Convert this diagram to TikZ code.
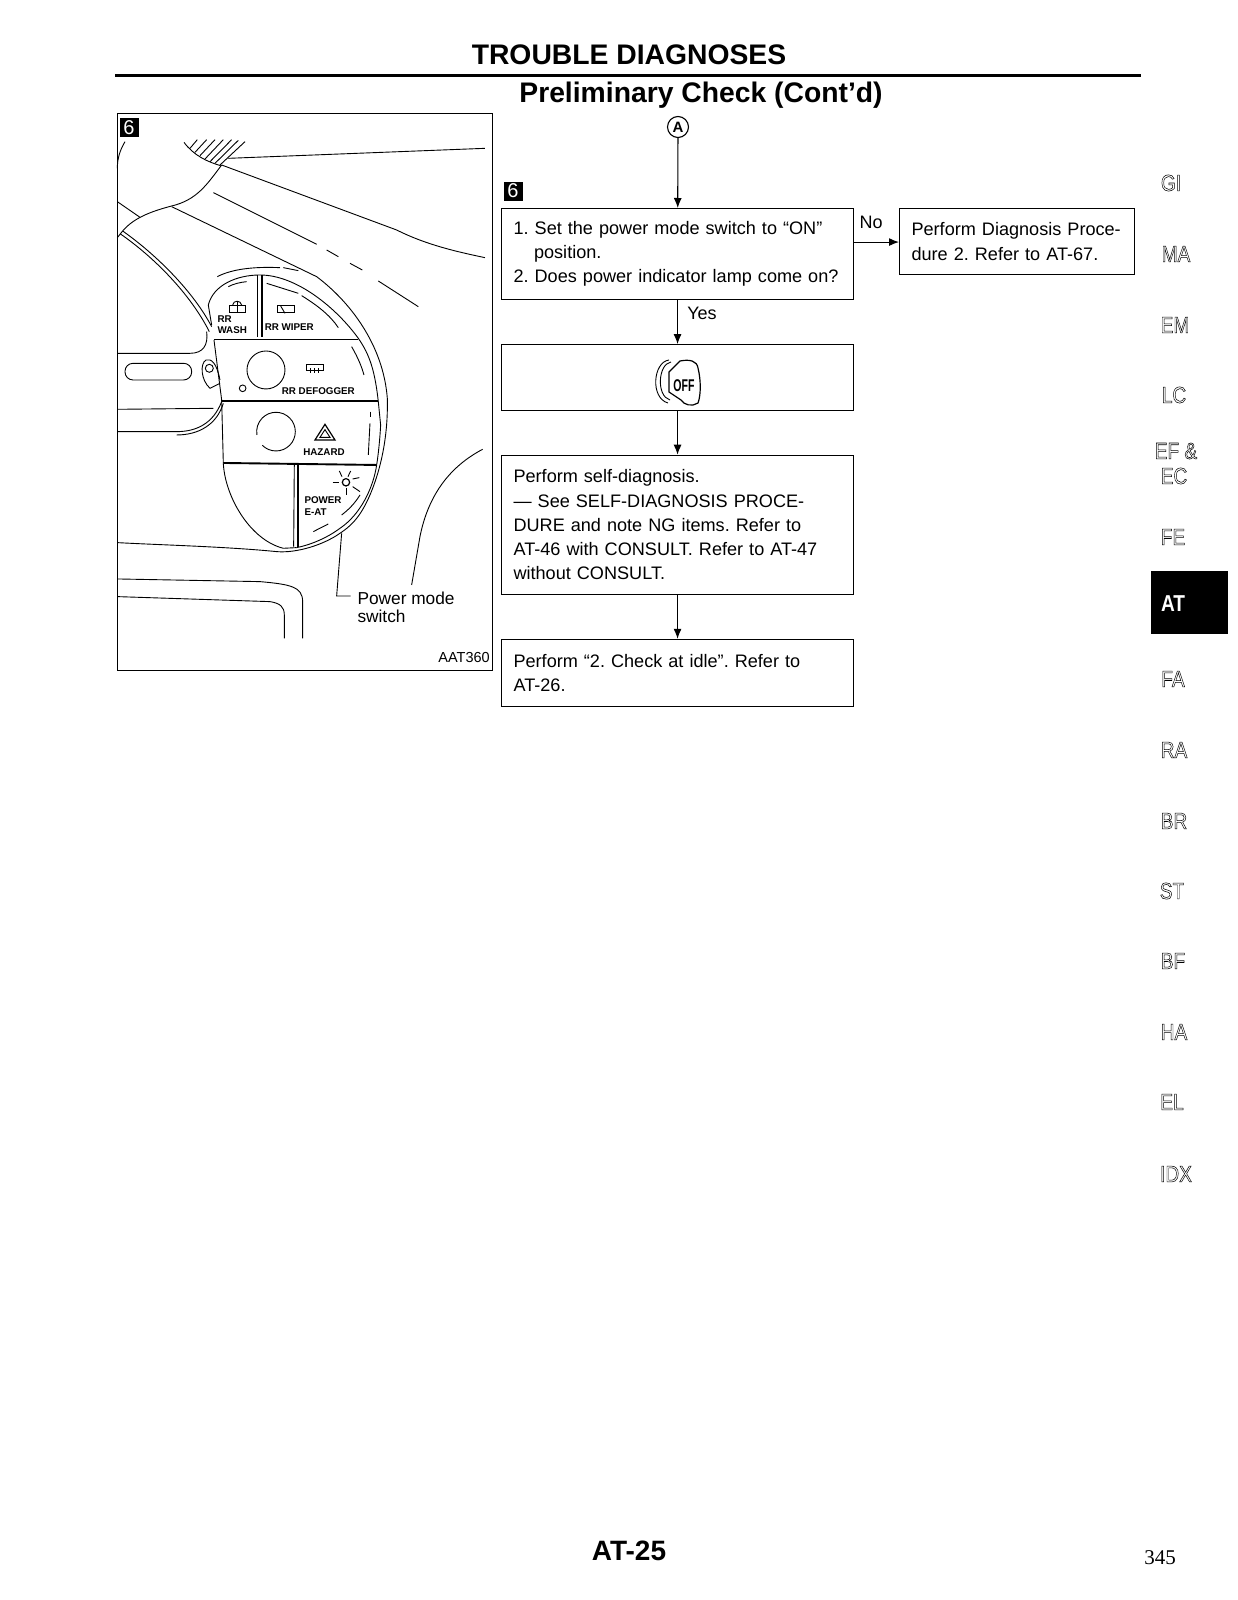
\documentclass[tikz,border=0pt]{standalone}
\usepackage{fontspec}
\setmainfont{Liberation Sans}
\newfontfamily\pagefont{Liberation Serif}
\usetikzlibrary{positioning,arrows.meta}
\newcommand{\hollow}[1]{\special{pdf:code q 1 Tr 0.55 w}#1\special{pdf:code Q}}

\begin{document}
\frenchspacing
\begin{tikzpicture}[
  x=1pt, y=-1pt,
  node distance=44pt,
  flowbox/.style={draw, line width=1.1pt, inner xsep=12pt, inner ysep=0pt,
              text width=328pt, align=left, font=\fontsize{18.1}{24.2}\selectfont},
  arr/.style={-{Latex[length=10pt,width=8pt]}, line width=1.1pt},
  tag/.style={inner sep=0pt, font=\fontsize{18}{22}\selectfont},
  badge/.style={fill=black, text=white, minimum width=19pt, minimum height=19pt,
              inner sep=0pt, font=\fontsize{20}{20}\selectfont},
  tab/.style={inner sep=0pt, xscale=0.83, font=\fontsize{23}{23}\selectfont},
  btn/.style={inner sep=0pt, align=left, font=\fontsize{9.8}{11.8}\bfseries\selectfont},
  ln/.style={line width=0.9pt},
  thk/.style={line width=1.9pt}
]
  \useasboundingbox (0,0) rectangle (1237,1600);

  % heading
  \node[inner sep=0pt, font=\fontsize{28.3}{29}\bfseries\selectfont] (title) at (629,55) {TROUBLE DIAGNOSES};
  \node[inner sep=0pt, font=\fontsize{28.3}{29}\bfseries\selectfont] (subtitle) at (701,95) {Preliminary Check (Cont’d)};
  \draw[line width=3pt] (115,76) -- (1141,76);

  % flow chart
  \node[draw, circle, line width=1.1pt, minimum size=21pt, inner sep=0pt,
        font=\fontsize{15}{15}\bfseries\selectfont] (conn) at (678,127) {A};
  \node[badge] (flowsix) at (513,191) {6};
  \node[flowbox, anchor=north west, minimum height=91pt] (lamp) at (501,208)
    {1. Set the power mode switch to “ON”\\
     \hspace*{20.5pt}position.\\
     2. Does power indicator lamp come on?};
  \node[flowbox, below=of lamp, minimum height=66pt] (key) {};
  \node[flowbox, below=43.5pt of key, minimum height=139pt] (diag)
    {Perform self-diagnosis.\\
     — See SELF-DIAGNOSIS PROCE-\\
     DURE and note NG items. Refer to\\
     AT-46 with CONSULT. Refer to AT-47\\
     without CONSULT.};
  \node[flowbox, below=of diag, minimum height=67pt] (idle)
    {Perform “2. Check at idle”. Refer to\\
     AT-26.};
  \node[flowbox, anchor=north west, text width=211pt, minimum height=66pt] (proc) at (899,208)
    {Perform Diagnosis Proce-\\
     dure 2. Refer to AT-67.};
  \draw[arr] (conn) -- (lamp);
  \draw[arr] (lamp) -- (key);
  \draw[arr] (key) -- (diag);
  \draw[arr] (diag) -- (idle);
  \draw[arr] ([yshift=12pt]lamp.east) -- ([yshift=12pt]lamp.east -| proc.west);
  \node[tag] (no) at (871,222) {No};
  \node[tag] (yes) at (702,313) {Yes};

  % key symbol
  \draw[ln] (669,360) .. controls (653,362) and (650,398) .. (668,403);
  \draw[ln] (671,362) .. controls (658,364) and (656,396) .. (670,400);
  \draw[line width=1.2pt, fill=white] (680,361) .. controls (690,359) and (697,361) .. (698,368)
     .. controls (701,380) and (701,395) .. (698,403) .. controls (692,407) and (684,405) .. (681,400) -- (669,392) -- (669,372) -- cycle;
  \node[inner sep=0pt, xscale=0.62, font=\fontsize{17}{17}\bfseries\selectfont] (keyoff) at (684,386) {OFF};

  % illustration
  \draw[line width=1pt] (117,114) rectangle (492,670);
  \node[badge] (picsix) at (129,128) {6};
  \begin{scope}[shift={(110,105)}, x=0.3333pt, y=-0.3333pt]
    % windshield pillar and dash
    \draw[ln] (45,110) .. controls (30,135) and (22,160) .. (22,190);
    \draw[ln] (222,112) .. controls (250,150) and (290,170) .. (332,182);
    \foreach \a/\b/\c/\d in {240/130/262/104,255/142/290/104,270/152/315/104,285/162/340/104,
                             300/170/365/104,315/175/385/106,330/180/405/110}
      \draw[ln] (\a,\b) -- (\c,\d);
    \draw[ln] (355,160) -- (1125,130);
    \draw[ln] (335,180) -- (860,375) .. controls (950,420) and (1040,440) .. (1125,458);
    \draw[ln] (335,180) .. controls (290,240) and (260,285) .. (185,303)
       .. controls (120,320) and (70,340) .. (38,378) -- (22,398);
    \draw[ln] (22,290) -- (90,337);
    \draw[ln] (38,378) .. controls (140,450) and (250,560) .. (305,665);
    \draw[ln] (30,386) .. controls (130,455) and (240,565) .. (298,680);
    \draw[ln] (310,263) -- (620,418);
    \draw[ln] (650,435) -- (685,455);
    \draw[ln] (720,475) -- (757,495);
    \draw[ln] (805,528) -- (925,605);
    % switch pod
    \draw[ln] (185,305) -- (620,515) .. controls (720,590) and (820,720) .. (832,880)
       .. controls (835,1000) and (810,1100) .. (780,1170)
       .. controls (750,1240) and (720,1265) .. (690,1285)
       .. controls (640,1320) and (560,1345) .. (500,1340)
       .. controls (350,1325) and (150,1320) .. (22,1313);
    \draw[ln] (305,660) -- (295,600) .. controls (310,540) and (380,510) .. (450,510)
       .. controls (560,510) and (680,610) .. (745,700)
       .. controls (780,750) and (795,800) .. (805,890) -- (812,960) .. controls (810,1000) and (805,1050) .. (800,1080)
       .. controls (790,1150) and (750,1230) .. (690,1270)
       .. controls (650,1300) and (600,1320) .. (560,1328);
    \draw[ln] (340,1075) .. controls (345,1175) and (420,1305) .. (520,1330) -- (560,1328);
    \draw[ln] (312,705) -- (335,885) -- (340,1075);
    \draw[line width=1.3pt] (312,703) -- (745,703);
    \draw[line width=1.3pt] (335,888) -- (805,888);
    \draw[thk] (340,1074) -- (800,1080);
    \draw[ln] (443,510) -- (443,695);
    \draw[thk] (455,510) -- (455,695);
    \draw[ln] (553,1078) -- (551,1325);
    \draw[thk] (565,1080) -- (565,1325);
    % arcs on the buttons
    \draw[ln] (322,515) .. controls (370,490) and (440,485) .. (510,488);
    \draw[ln] (520,488) -- (565,497);
    \draw[ln] (355,545) .. controls (370,537) and (390,532) .. (410,530);
    \draw[ln] (470,535) -- (565,565);
    \draw[ln] (575,572) .. controls (620,600) and (660,630) .. (685,668);
    \draw[ln] (725,725) .. controls (745,760) and (755,785) .. (762,810);
    \draw[ln] (780,920) -- (780,935);
    \draw[ln] (780,955) -- (775,1050);
    \draw[ln] (750,1170) .. controls (735,1195) and (715,1215) .. (695,1230);
    \draw[ln] (655,1257) -- (610,1280);
    % knobs
    \draw[ln] (468,795) circle (57);
    \draw[ln] (398,850) circle (10);
    \draw[ln] (457,1021) arc (135:-190:58);
    \draw[ln] (298,790) circle (12);
    \draw[ln] (330,825) .. controls (320,775) and (305,760) .. (288,765)
       .. controls (270,775) and (272,825) .. (300,850) -- (330,835);
    \draw[ln, rounded corners=8pt] (45,775) rectangle (245,825);
    % icons
    \draw[ln] (358,600) rectangle (405,622);
    \draw[ln] (368,600) .. controls (370,585) and (392,585) .. (395,600);
    \draw[ln] (382,590) -- (382,622);
    \draw[ln] (503,600) rectangle (552,622);
    \draw[ln] (512,603) -- (525,625);
    \draw[ln] (590,778) rectangle (640,795);
    \foreach \a in {600,612,624}
      \draw[ln] (\a,790) -- (\a,805);
    \draw[line width=1.2pt] (645,958) -- (615,1005) -- (675,1005) -- cycle;
    \draw[ln] (645,974) -- (630,997) -- (660,997) -- cycle;
    % sun
    \draw[line width=1.2pt] (708,1132) circle (11);
    \draw[ln] (668,1132) -- (688,1132);
    \draw[ln] (728,1122) -- (748,1118);
    \draw[ln] (688,1098) -- (696,1115);
    \draw[ln] (722,1098) -- (714,1115);
    \draw[ln] (708,1150) -- (708,1170);
    \draw[ln] (728,1145) -- (750,1160);
    % lines below the pod
    \draw[ln] (22,745) -- (240,745) .. controls (280,745) and (295,720) .. (290,680);
    \draw[ln] (22,913) -- (310,910);
    \draw[ln] (22,980) -- (200,980) .. controls (260,980) and (310,955) .. (335,890);
    \draw[ln] (200,990) .. controls (265,990) and (320,960) .. (340,895);
    \draw[ln] (22,1422) -- (450,1430) .. controls (540,1438) and (578,1445) .. (578,1490) -- (578,1600);
    \draw[ln] (22,1475) -- (480,1490) .. controls (510,1495) and (523,1505) .. (523,1530) -- (523,1600);
    \draw[ln] (1118,1033) .. controls (1000,1095) and (950,1195) .. (930,1295) -- (905,1440);
    % labels on the pod
    \node[btn, anchor=west] (wash) at (322,659) {RR\\WASH};
    \node[btn] (wiper) at (538,665) {RR WIPER};
    \node[btn] (defog) at (625,858) {RR DEFOGGER};
    \node[btn] (hazard) at (642,1040) {HAZARD};
    \node[btn, anchor=west] (power) at (583,1204) {POWER\\E-AT};
    \coordinate (lead) at (695,1285);
    \node[inner sep=0pt, anchor=west, align=left, font=\fontsize{17.3}{18}\selectfont] (modesw) at (742,1506)
      {Power mode\\switch};
    \draw[ln] (lead) -- (680,1473) -- (722,1473);
    \node[inner sep=0pt, anchor=east, font=\fontsize{14.5}{15}\selectfont] (code) at (1140,1658) {AAT360};
  \end{scope}

  % section tabs
  \foreach \lbl/\tx/\ty [count=\i] in {GI/1171/183,MA/1176/254,EM/1175/325,LC/1174/395,EC/1174/476,FE/1173/537,
      FA/1173/679,RA/1174/750,BR/1174/821,ST/1172/891,BF/1173/961,HA/1174/1032,EL/1172/1102,IDX/1176/1174}
    \node[tab] (tab\i) at (\tx,\ty) {\hollow{\lbl}};
  \node[tab] (tabef) at (1176,451) {\hollow{EF \&}};
  \node[fill=black, minimum width=77pt, minimum height=63pt, inner sep=0pt] (atbox) at (1189.5,602) {};
  \node[tab, text=white, font=\fontsize{23}{23}\bfseries\selectfont] (attab) at (1173,604) {AT};

  % page numbers
  \node[inner sep=0pt, font=\fontsize{28}{28}\bfseries\selectfont] (pageno) at (629,1551) {AT-25};
  \node[inner sep=0pt, font=\pagefont\fontsize{21}{21}\selectfont] (sheet) at (1160,1558) {345};
\end{tikzpicture}
\end{document}
